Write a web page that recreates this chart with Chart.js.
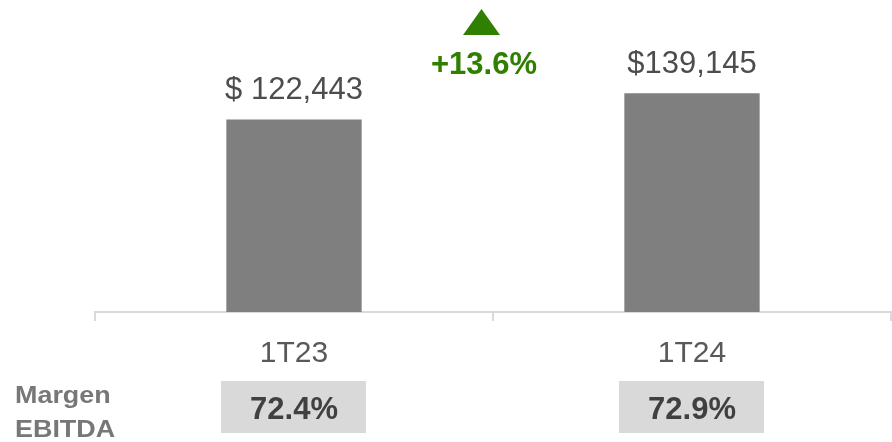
<!DOCTYPE html>
<html lang="es">

<head>
  <meta charset="UTF-8">
  <title>EBITDA 1T23 vs 1T24</title>
  <script src="https://cdn.jsdelivr.net/npm/chart.js"></script>
  <style>
    html, body {
      margin: 0;
      padding: 0;
      background: #fff;
    }

    #chart-wrap {
      width: 892px;
      height: 442px;
    }
  </style>
</head>

<body>
  <div id="chart-wrap">
    <canvas id="ebitda-chart" width="892" height="442"></canvas>
  </div>

  <script>
    // data
    const periods = ['1T23', '1T24'];
    const ebitda = [122443, 139145];
    const ebitdaLabels = ['$ 122,443', '$139,145'];
    const margins = ['72.4%', '72.9%'];
    const marginTitle = ['Margen', 'EBITDA'];
    const growthLabel = '+13.6%';

    const FONT = "Arial, 'Liberation Sans', sans-serif";

    // value labels, growth arrow and the margin row under the axis
    const extrasPlugin = {
      id: 'extras',
      afterDatasetsDraw(chart) {
        const ctx = chart.ctx;
        const meta = chart.getDatasetMeta(0);
        const xScale = chart.scales.x;

        ctx.save();
        ctx.textAlign = 'center';
        ctx.textBaseline = 'alphabetic';
        ctx.fillStyle = '#4d4d4d';
        ctx.font = '31px ' + FONT;
        meta.data.forEach((bar, i) => {
          ctx.fillText(ebitdaLabels[i], bar.x, bar.y - 20);
        });

        // growth between the two periods
        const midX = (meta.data[0].x + meta.data[1].x) / 2 - 9;
        ctx.fillStyle = '#2f7f00';
        ctx.beginPath();
        ctx.moveTo(midX - 21, 35);
        ctx.lineTo(midX + 16, 35);
        ctx.lineTo(midX - 2.5, 9);
        ctx.closePath();
        ctx.fill();
        ctx.font = 'bold 31px ' + FONT;
        ctx.fillText(growthLabel, midX, 74);

        // margin boxes
        periods.forEach((p, i) => {
          const cx = xScale.getPixelForValue(i);
          ctx.fillStyle = '#d9d9d9';
          ctx.fillRect(cx - 73, 381, 145, 52);
          ctx.fillStyle = '#404040';
          ctx.font = 'bold 31px ' + FONT;
          ctx.fillText(margins[i], cx, 419);
        });

        // row title, a little wider than plain Arial
        ctx.fillStyle = '#777777';
        ctx.textAlign = 'left';
        ctx.font = 'bold 23px ' + FONT;
        ctx.translate(15, 0);
        ctx.scale(1.17, 1);
        ctx.fillText(marginTitle[0], 0, 403);
        ctx.fillText(marginTitle[1], 0, 437);
        ctx.restore();
      }
    };

    new Chart(document.getElementById('ebitda-chart'), {
      type: 'bar',
      data: {
        labels: periods,
        datasets: [{
          label: 'EBITDA',
          data: ebitda,
          backgroundColor: '#7f7f7f',
          categoryPercentage: 1,
          barPercentage: 0.34
        }]
      },
      options: {
        responsive: false,
        animation: false,
        layout: {
          padding: { top: 12, left: 95, right: 1, bottom: 55 }
        },
        plugins: {
          legend: { display: false },
          tooltip: { enabled: false }
        },
        scales: {
          x: {
            offset: true,
            grid: {
              offset: true,
              drawOnChartArea: false,
              drawTicks: true,
              tickLength: 9,
              color: '#d9d9d9',
              lineWidth: 2
            },
            border: {
              display: true,
              color: '#d9d9d9',
              width: 2
            },
            ticks: {
              color: '#595959',
              padding: 15,
              font: { family: FONT, size: 30 }
            }
          },
          y: {
            display: false,
            min: 0,
            max: 190800
          }
        }
      },
      plugins: [extrasPlugin]
    });
  </script>
</body>

</html>
